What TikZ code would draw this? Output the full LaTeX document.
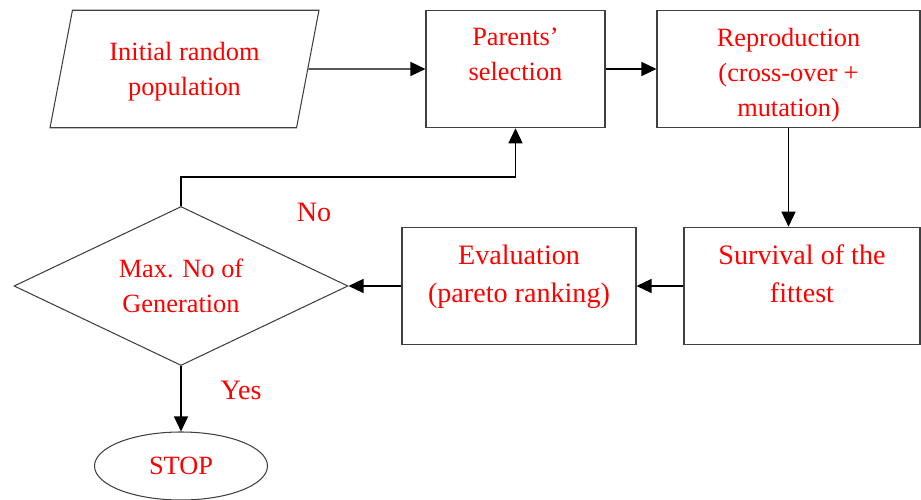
\documentclass[tikz,border=0pt]{standalone}
\usepackage{fontspec}
\setmainfont{Liberation Serif}
\usetikzlibrary{arrows.meta,shapes.geometric}

\begin{document}
\begin{tikzpicture}[
  box/.style={draw=black!75, line width=0.6pt, text=red, align=center, font=\fontsize{15}{19.9}\selectfont},
  stepbox/.style={box, rectangle, minimum height=2.35cm},
  bigbox/.style={stepbox, text depth=0.5cm, font=\fontsize{16}{21.6}\selectfont},
  arr/.style={line width=0.8pt, -{Triangle[length=3mm,width=2.8mm]}},
  lbl/.style={text=red, font=\fontsize{16}{21.6}\selectfont}
]
\useasboundingbox (0,0) rectangle (18.42,-10);
\node[box, trapezium, trapezium left angle=76, trapezium right angle=104, trapezium stretches=true, minimum width=5.38cm, minimum height=2.35cm, text depth=0pt] (init) at (3.69,-1.38) {Initial random\\population};
\node[stepbox, minimum width=3.58cm, text depth=0.6cm] (parents) at (10.31,-1.38) {Parents’\\selection};
\node[stepbox, minimum width=5.26cm, text height=53.5pt, text depth=0pt] (repro) at (15.77,-1.38) {Reproduction\\(cross-over +\\mutation)};
\node[bigbox, minimum width=4.72cm] (surv) at (16.04,-5.72) {Survival of the\\fittest};
\node[bigbox, minimum width=4.68cm] (eval) at (10.38,-5.72) {Evaluation\\(pareto ranking)};
\node[box, diamond, aspect=2.1, minimum width=6.68cm, minimum height=3.18cm, inner sep=0pt] (maxgen) at (3.62,-5.72) {Max. No of\\Generation};
\node[box, ellipse, minimum width=3.46cm, minimum height=1.36cm] (stop) at (3.62,-9.32) {STOP};
\coordinate (back) at (3.62,-3.54);

\draw[arr] (init.east) -- (parents.west);
\draw[arr] (parents.east) -- (repro.west);
\draw[arr] (repro.south) -- (repro.south |- surv.north);
\draw[arr] (surv.west) -- (eval.east);
\draw[arr] (eval.west) -- (maxgen.east);
\draw[arr] (maxgen.north) -- (back) -| (parents.south);
\draw[arr] (maxgen.south) -- (stop.north);
\node[lbl] (no) at (6.28,-4.24) {No};
\node[lbl] (yes) at (4.82,-7.8) {Yes};
\end{tikzpicture}
\end{document}
